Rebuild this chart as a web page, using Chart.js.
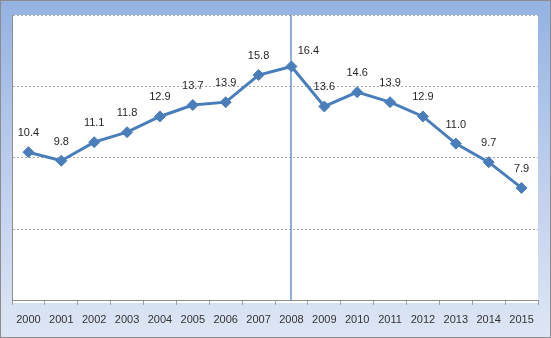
<!DOCTYPE html>
<html>
<head>
<meta charset="utf-8">
<script src="https://cdn.jsdelivr.net/npm/chart.js@4/dist/chart.umd.min.js"></script>
<style>
  html, body { margin: 0; padding: 0; background: #fff; }
  #frame {
    width: 551px; height: 338px; box-sizing: border-box;
    border: 1px solid #8c8c8c;
    background: linear-gradient(to bottom, #94b2e2 0%, #b9cbec 45%, #dde6f4 100%);
  }
  #plotBg {
    position: absolute; left: 12px; top: 15px; width: 526px; height: 288px; background: #fff;
  }
  #wrap { position: absolute; left: 1px; top: 1px; width: 549px; height: 336px; }
</style>
</head>
<body>
<div id="frame"></div>
<div id="plotBg"></div>
<div id="wrap"><canvas id="growthChart" width="549" height="336"></canvas></div>
<script>
'use strict';

// ─── Data ─────────────────────────────────────────────────────
const years  = ['2000','2001','2002','2003','2004','2005','2006','2007',
                '2008','2009','2010','2011','2012','2013','2014','2015'];
const values = [10.4, 9.8, 11.1, 11.8, 12.9, 13.7, 13.9, 15.8,
                16.4, 13.6, 14.6, 13.9, 12.9, 11.0, 9.7, 7.9];
const yTicks = [0, 5, 10, 15, 20];
const markerYear = '2008';

const LINE_COLOR = '#4a7ebb';
const FONT = "'Liberation Sans', Arial, sans-serif";

// ─── Plugins ──────────────────────────────────────────────────
// vertical rule through the marker year
const markerLine = {
  id: 'markerLine',
  beforeDatasetsDraw(chart) {
    const { ctx, chartArea, scales } = chart;
    const x = Math.round(scales.x.getPixelForValue(years.indexOf(markerYear)));
    ctx.save();
    ctx.strokeStyle = '#6a94cf';
    ctx.lineWidth = 1.5;
    ctx.beginPath();
    ctx.moveTo(x, chartArea.top);
    ctx.lineTo(x, chartArea.bottom);
    ctx.stroke();
    ctx.restore();
  }
};

// value labels above each point
const valueLabels = {
  id: 'valueLabels',
  afterDatasetsDraw(chart) {
    const { ctx } = chart;
    const meta = chart.getDatasetMeta(0);
    const mk = years.indexOf(markerYear);
    ctx.save();
    ctx.font = '11px ' + FONT;
    ctx.fillStyle = '#262626';
    ctx.textAlign = 'center';
    ctx.textBaseline = 'middle';
    meta.data.forEach((pt, i) => {
      // keep the peak label clear of the vertical rule
      const dx = i === mk ? 17 : 0;
      const dy = i === mk ? -15 : -19;
      ctx.fillText(values[i].toFixed(1), pt.x + dx, pt.y + dy);
    });
    ctx.restore();
  }
};

// ─── Chart ────────────────────────────────────────────────────
new Chart(document.getElementById('growthChart'), {
  type: 'line',
  data: {
    labels: years,
    datasets: [{
      data: values,
      borderColor: LINE_COLOR,
      borderWidth: 3,
      tension: 0,
      pointStyle: 'rectRot',
      pointRadius: 5.5,
      pointBorderWidth: 1,
      pointBackgroundColor: LINE_COLOR,
      pointBorderColor: LINE_COLOR,
    }]
  },
  options: {
    responsive: false,
    animation: false,
    layout: { padding: { left: 11, right: 12, top: 14, bottom: 1 } },
    plugins: {
      legend: { display: false },
      tooltip: { enabled: false },
    },
    scales: {
      x: {
        offset: true,
        grid: { display: true, drawOnChartArea: false, drawTicks: true, tickLength: 4, offset: true, color: '#9a9a9a' },
        border: { display: true, color: '#8c8c8c', width: 1 },
        ticks: { color: '#333', font: { family: FONT, size: 11 }, padding: 9, maxRotation: 0, autoSkip: false },
      },
      y: {
        min: yTicks[0],
        max: yTicks[yTicks.length - 1],
        afterBuildTicks: axis => { axis.ticks = yTicks.map(v => ({ value: v })); },
        afterFit: axis => { axis.width = 0; },
        grid: { color: '#ababab', lineWidth: 1, drawTicks: false },
        border: { display: true, color: '#8c8c8c', width: 1, dash: [2, 2] },
        ticks: { display: false },
      }
    }
  },
  plugins: [markerLine, valueLabels]
});
</script>
</body>
</html>
